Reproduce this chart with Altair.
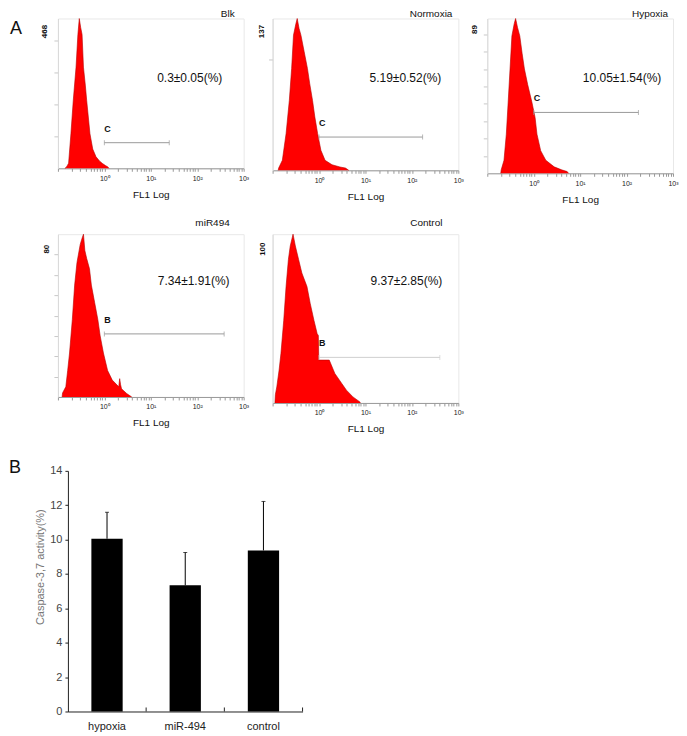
import altair as alt
import pandas as pd

# ---------------- data ----------------
panel_names = ["Blk", "Normoxia", "Hypoxia", "miR494", "Control"]

# histogram outlines: log10(FL1) positions and event counts
blk_exp = [-0.85, -0.82, -0.80, -0.77, -0.72, -0.67, -0.61, -0.57, -0.54, -0.51, -0.48,
           -0.45, -0.41, -0.38, -0.31, -0.25, -0.18, -0.10, -0.04, 0.03, 0.07, 0.10]
blk_cnt = [0, 3, 8, 16, 108, 211, 316, 418, 468, 440, 418,
           316, 260, 211, 108, 60, 36, 22, 15, 8, 5, 0]

norm_exp = [-0.88, -0.87, -0.79, -0.71, -0.64, -0.59, -0.55, -0.50, -0.47, -0.43, -0.39,
            -0.32, -0.25, -0.20, -0.14, -0.09, -0.03, 0.04, 0.13, 0.28, 0.45, 0.57, 0.64]
norm_cnt = [0, 2, 9, 33, 63, 92, 122, 132, 137, 128, 122,
            107, 92, 78, 63, 48, 33, 18, 9, 5, 3, 2, 0]

hyp_exp = [-0.71, -0.70, -0.64, -0.59, -0.55, -0.51, -0.47, -0.42, -0.39, -0.35, -0.30,
           -0.25, -0.20, -0.13, -0.04, 0.03, 0.07, 0.15, 0.26, 0.44, 0.60, 0.72, 0.75]
hyp_cnt = [0, 2, 7.5, 22.5, 41, 60, 79, 86, 89, 84, 79,
           69, 60, 51, 41, 32, 22.5, 13, 7.5, 3.7, 2, 1, 0]

mir_exp = [-0.91, -0.90, -0.83, -0.79, -0.75, -0.69, -0.64, -0.59, -0.52, -0.48, -0.45,
           -0.42, -0.38, -0.32, -0.28, -0.21, -0.14, -0.09, -0.02, 0.07, 0.17, 0.31,
           0.33, 0.35, 0.37, 0.48, 0.59]
mir_cnt = [0, 2, 5, 13, 21.6, 38, 55, 66, 75, 78, 80,
           72, 68, 63, 55, 46.5, 38, 30, 21.6, 13, 8.3, 5,
           9, 6, 4, 1.7, 0]

ctl_exp = [-0.95, -0.94, -0.91, -0.86, -0.82, -0.76, -0.71, -0.66, -0.62, -0.56, -0.51,
           -0.44, -0.37, -0.26, -0.19, -0.11, -0.04, -0.015, -0.005, 0.22, 0.34, 0.49,
           0.59, 0.73, 0.88, 0.89]
ctl_cnt = [0, 5, 9.5, 19.5, 29.4, 49, 69, 85, 93, 100, 93,
           85, 77, 69, 59, 49, 41, 40, 25.4, 25.4, 17.5, 11.5,
           7.6, 3.6, 0.6, 0]

y_max = [468, 137, 89, 80, 100]
pct_labels = ["0.3±0.05(%)", "5.19±0.52(%)", "10.05±1.54(%)", "7.34±1.91(%)", "9.37±2.85(%)"]
gate_start = [1, 1, 1, 1, 1]
gate_end = [25, 170, 180, 380, 400]
gate_level = [80, 30, 35, 31, 27]
gate_names = ["C", "C", "C", "B", "B"]

groups = ["hypoxia", "miR-494", "control"]
means = [10.05, 7.34, 9.37]
sds = [1.54, 1.91, 2.85]

FONT = "Liberation Sans"

# ---------------- histogram panels ----------------
x_tick_values = [round(m * 10 ** k, 6) for k in (-1, 0, 1, 2) for m in range(1, 10)] + [1000]
label_expr = ("datum.value == 1 ? '10\u2070' : datum.value == 10 ? '10\u00b9' : "
              "datum.value == 100 ? '10\u00b2' : datum.value == 1000 ? '10\u00b3' : ''")


def hist_panel(i, exps, counts, width, height, yticks, max_xy, pct_xy, title_dx,
               title_offset, gate_color="#9a9a9a", panel_letter=None):
    x_axis = alt.Axis(values=x_tick_values, labelExpr=label_expr, title="FL1 Log",
                      titleFontSize=10, titleFontWeight="normal", titlePadding=8,
                      titleColor="#111", labelFontSize=7, labelColor="#222",
                      labelPadding=3, labelFlush=False, labelOverlap=False,
                      tickSize=3, tickColor="#999", domainColor="#999", grid=False)
    y_axis = alt.Axis(values=yticks, labels=False, title=None, tickSize=4,
                      tickColor="#c8c8c8", domainColor="#d8d8d8", grid=False)
    x_scale = alt.Scale(type="log", domain=[0.1, 1000], nice=False)
    y_scale = alt.Scale(domain=[0, y_max[i]], nice=False, zero=True)

    def X(field):
        return alt.X(field, type="quantitative", scale=x_scale, axis=x_axis)

    def Y(field):
        return alt.Y(field, type="quantitative", scale=y_scale, axis=y_axis)

    df = pd.DataFrame({"fl1": [10 ** e for e in exps], "count": counts})
    area = alt.Chart(df).mark_area(
        color="#ff0000", opacity=1, fillOpacity=1, interpolate="linear",
        line={"color": "#b80000", "strokeWidth": 0.6}
    ).encode(x=X("fl1"), y=Y("count"))

    gdf = pd.DataFrame({"x": [gate_start[i]], "x2": [gate_end[i]],
                        "y": [gate_level[i]], "lab": [gate_names[i]]})
    gate = alt.Chart(gdf).mark_rule(color=gate_color, strokeWidth=1).encode(
        x=X("x"), x2="x2:Q", y=Y("y"))
    cdf = pd.DataFrame({"x": [gate_start[i], gate_end[i]], "y": [gate_level[i]] * 2})
    caps = alt.Chart(cdf).mark_tick(orient="vertical", size=5, thickness=1,
                                    color=gate_color).encode(x=X("x"), y=Y("y"))
    glabel = alt.Chart(gdf).mark_text(align="left", baseline="middle", dx=0, dy=-14,
                                      fontSize=9, fontWeight="bold", color="#111").encode(
        x=X("x"), y=Y("y"), text="lab:N")

    mdf = pd.DataFrame({"t": [str(y_max[i])]})
    maxlab = alt.Chart(mdf).mark_text(angle=270, fontSize=8, fontWeight="bold",
                                      align="center", baseline="middle", color="#111").encode(
        x=alt.value(max_xy[0]), y=alt.value(max_xy[1]), text="t:N")

    pdf = pd.DataFrame({"t": [pct_labels[i]]})
    pct = alt.Chart(pdf).mark_text(fontSize=12, align="center", baseline="middle",
                                   color="#111").encode(
        x=alt.value(pct_xy[0]), y=alt.value(pct_xy[1]), text="t:N")

    layers = [area, gate, caps, glabel, maxlab, pct]
    if panel_letter is not None:
        ldf = pd.DataFrame({"t": [panel_letter[0]]})
        layers.append(alt.Chart(ldf).mark_text(fontSize=18, align="center",
                                               baseline="middle", color="#111").encode(
            x=alt.value(panel_letter[1]), y=alt.value(panel_letter[2]), text="t:N"))

    return alt.layer(*layers).properties(
        width=width, height=height,
        title=alt.TitleParams(panel_names[i], anchor="end", fontSize=10,
                              fontWeight="normal", color="#111", dx=title_dx,
                              offset=title_offset),
        view=alt.ViewBackground(stroke="#e8e8e8", strokeWidth=1),
    )


blk = hist_panel(0, blk_exp, blk_cnt, 186, 150, [100, 200, 300, 400], (-13, 13), (132, 60),
                 -14, -2, panel_letter=("A", -42, 10))
norm = hist_panel(1, norm_exp, norm_cnt, 186, 152, [100], (-11, 13), (133, 60), -11, -2)
hyp = hist_panel(2, hyp_exp, hyp_cnt, 186, 155, [10, 20, 30, 40, 50, 60, 70, 80],
                 (-12.5, 11), (135, 60), -10, -2)
mir = hist_panel(3, mir_exp, mir_cnt, 186, 163, [10, 20, 30, 40, 50, 60, 70],
                 (-10.5, 15), (136, 47), -19, 5)
ctl = hist_panel(4, ctl_exp, ctl_cnt, 186, 169, [], (-9.5, 15), (134, 47), -21, 5,
                 gate_color="#d0d0d0")

# invisible cell that sets the height of the second row
filler = alt.Chart(pd.DataFrame({"a": [0]})).mark_point(opacity=0).encode(
    x=alt.value(0), y=alt.value(0)).properties(
    width=1, height=176, view=alt.ViewBackground(strokeOpacity=0))

# ---------------- bar chart (panel B) ----------------
B_HEIGHT = 241
dfb = pd.DataFrame({"group": groups, "mean": means,
                    "upper": [m + s for m, s in zip(means, sds)]})
xb_scale = alt.Scale(paddingInner=0.6, paddingOuter=0.3, range=[10, 245])
xb = alt.X("group:N", sort=groups, scale=xb_scale,
           axis=alt.Axis(title=None, labelAngle=0, ticks=False,
                         labelFontSize=11, labelPadding=9, labelColor="#222",
                         domainColor="#222", grid=False))
yb_scale = alt.Scale(domain=[0, 14], nice=False)
yb_axis = alt.Axis(values=[0, 2, 4, 6, 8, 10, 12, 14], title="Caspase-3,7 activity(%)",
                   titleFontWeight="normal", titleFontSize=11, titleColor="#777",
                   titlePadding=4, titleY=96, tickSize=3, labelFontSize=11,
                   labelColor="#444", labelPadding=3, domainColor="#222",
                   tickColor="#222", grid=False, offset=-10)

bars = alt.Chart(dfb).mark_bar(color="black").encode(
    x=xb, y=alt.Y("mean:Q", scale=yb_scale, axis=yb_axis))
err = alt.Chart(dfb).mark_rule(color="black", strokeWidth=1).encode(
    x=xb, y=alt.Y("mean:Q", scale=yb_scale, axis=yb_axis), y2="upper:Q")
cap = alt.Chart(dfb).mark_tick(color="black", size=4, thickness=1).encode(
    x=xb, y=alt.Y("upper:Q", scale=yb_scale, axis=yb_axis))
# category separator ticks on the x axis, pointing up into the plot
sep = alt.Chart(dfb).mark_rule(color="#222", strokeWidth=1, xOffset=23.5).encode(
    x=alt.X("group:N", sort=groups, scale=xb_scale, bandPosition=1),
    y=alt.value(B_HEIGHT), y2=alt.value(B_HEIGHT - 4))
bl = alt.Chart(pd.DataFrame({"t": ["B"]})).mark_text(
    fontSize=18, align="center", baseline="middle", color="#111").encode(
    x=alt.value(-43), y=alt.value(-3), text="t:N")

# the view is as wide as one column; the x scale range reaches past it
panel_b = alt.layer(bars, err, cap, sep, bl).properties(
    width=186, height=B_HEIGHT, view=alt.ViewBackground(strokeOpacity=0))

chart = alt.ConcatChart(
    concat=[blk, norm, hyp, mir, ctl, filler, panel_b],
    columns=3,
    spacing={"row": 61, "column": 29},
    bounds="flush",
    align={"row": "each", "column": "all"},
).properties(padding=0).configure(font=FONT).configure_view(stroke="#e8e8e8")

chart.save("out.html", embed_options={"renderer": "svg", "actions": False})
